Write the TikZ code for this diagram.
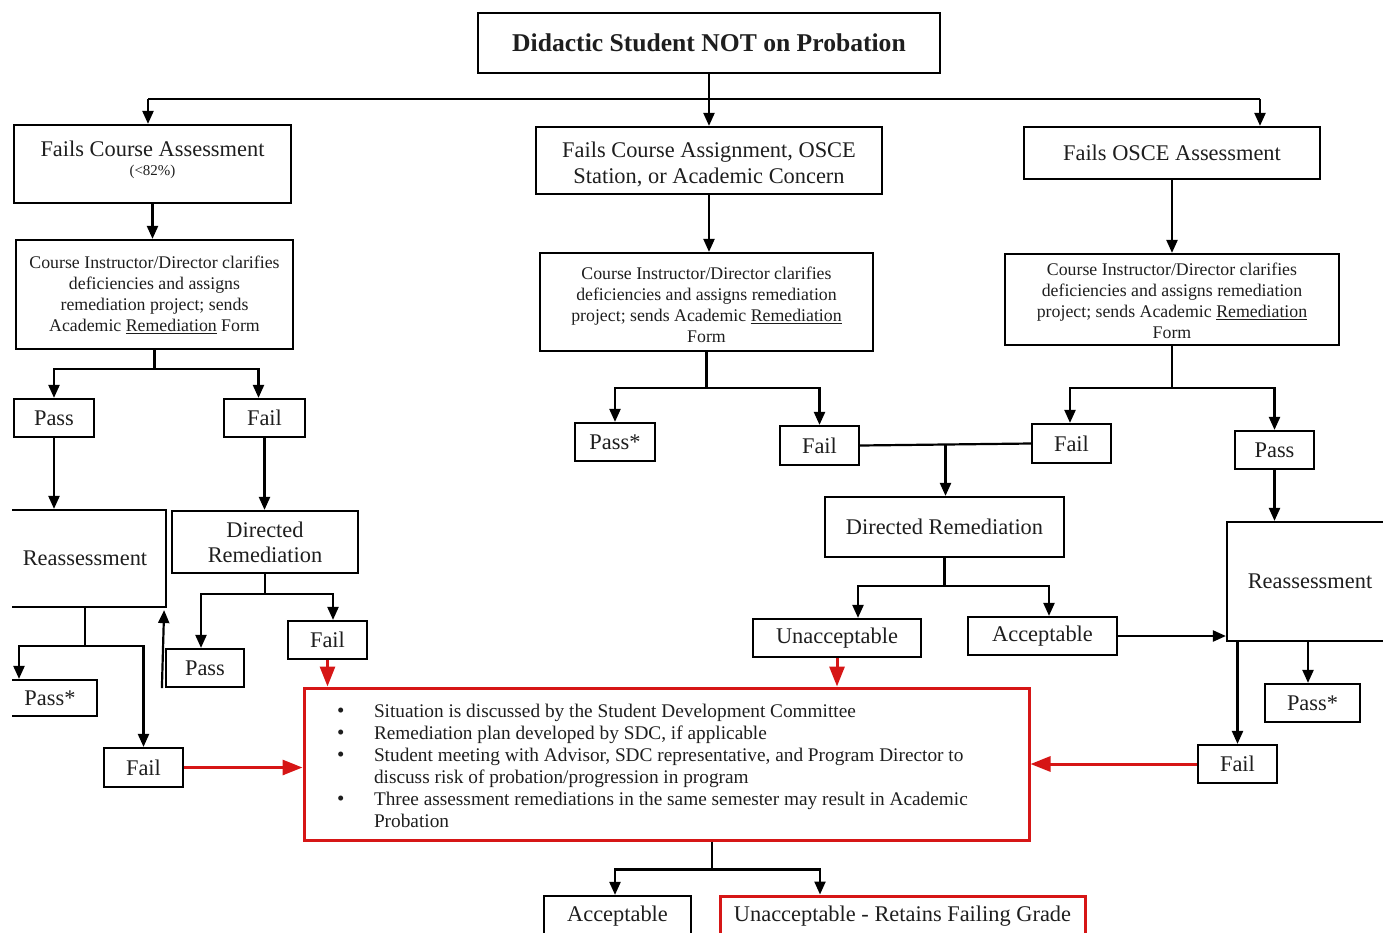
\documentclass[tikz,border=0pt]{standalone}
\usepackage{fontspec}
\setmainfont{Liberation Serif}
\usetikzlibrary{arrows.meta,calc}
\definecolor{redline}{RGB}{214,22,22}
\definecolor{ink}{RGB}{30,30,30}
\newcommand\mainfs{\fontsize{22.4}{26}\selectfont}
\newcommand\notefs{\fontsize{17.8}{21}\selectfont}
\newcommand\bigdot{\hspace*{-2pt}{\fontsize{21}{22}\selectfont\textbullet}}

\begin{document}
\begin{tikzpicture}[x=1pt,y=-1pt,
  box/.style={draw=black, line width=2.2pt, inner sep=0pt, align=center, text=ink, font=\mainfs},
  notebox/.style={box, font=\notefs},
  redbox/.style={draw=redline, line width=3pt, inner sep=0pt, text=ink},
  link/.style={draw=black, line width=2.2pt},
  arr/.style={link, -{Triangle[length=13pt,width=11pt]}},
  redarr/.style={draw=redline, line width=3pt, -{Triangle[length=20pt,width=15pt]}},
]
\useasboundingbox (0,0) rectangle (1383,932);

% ---------- top level ----------
\node[box, minimum width=462, minimum height=60, font=\bfseries\fontsize{25.6}{30}\selectfont]
  (title) at (709,43) {Didactic Student NOT on Probation};

\node[box, minimum width=277, minimum height=78] (A1) at (152.5,164)
  {Fails Course Assessment\\[-7pt]{\fontsize{15}{17}\selectfont (<82\%)\rule[-12pt]{0pt}{12pt}}};
\node[box, minimum width=346, minimum height=67] (B1) at (709,160.5)
  {\rule{0pt}{23pt}Fails Course Assignment, OSCE\\Station, or Academic Concern};
\node[box, minimum width=296, minimum height=52] (C1) at (1172,153)
  {Fails OSCE Assessment};

% ---------- instructor boxes ----------
\node[notebox, minimum width=277, minimum height=109] (A2) at (154.5,294.5)
  {Course Instructor/Director clarifies\\deficiencies and assigns\\remediation project; sends\\Academic \underline{Remediation} Form};
\node[notebox, minimum width=333, minimum height=98] (B2) at (706.5,302)
  {\rule{0pt}{18.5pt}Course Instructor/Director clarifies\\deficiencies and assigns remediation\\project; sends Academic \underline{Remediation}\\Form};
\node[notebox, minimum width=334, minimum height=91] (C2) at (1172,299.5)
  {\rule{0pt}{14.5pt}Course Instructor/Director clarifies\\deficiencies and assigns remediation\\project; sends Academic \underline{Remediation}\\Form};

% ---------- left branch ----------
\node[box, minimum width=80, minimum height=38] (passA) at (54,418) {Pass};
\node[box, minimum width=81, minimum height=38] (failA) at (264.5,418) {Fail};
\node[box, minimum width=186, minimum height=62, font=\fontsize{22.4}{25}\selectfont]
  (drA) at (265,542) {Directed\\Remediation};
\node[box, minimum width=78, minimum height=38] (passA2) at (205,668) {Pass};
\node[box, minimum width=79, minimum height=38] (failA2) at (327.5,640) {Fail};
\node[box, minimum width=79, minimum height=39] (failA3) at (143.5,767.5) {Fail};
\begin{scope}
  \clip (12,0) rectangle (400,932);
  \node[box, minimum width=162, minimum height=97] (reassA) at (85,558.5) {Reassessment};
  \node[box, minimum width=94, minimum height=36] (passStarA) at (50,698) {Pass*};
\end{scope}

% ---------- middle branch ----------
\node[box, minimum width=80, minimum height=38] (passStarB) at (615,442) {Pass*};
\node[box, minimum width=79, minimum height=39] (failB) at (819.5,445.5) {Fail};
\node[box, minimum width=239, minimum height=60] (drC) at (944.5,527) {Directed Remediation};
\node[box, minimum width=168, minimum height=38] (unacc) at (837,638) {Unacceptable};
\node[box, minimum width=149, minimum height=38] (acc) at (1042.5,636) {Acceptable};

% ---------- right branch ----------
\node[box, minimum width=79, minimum height=39] (failC) at (1071.5,443.5) {Fail};
\node[box, minimum width=79, minimum height=38] (passC) at (1274.5,450) {Pass};
\node[box, minimum width=166, minimum height=119] (reassC) at (1310,581.5) {Reassessment};
\node[box, minimum width=95, minimum height=38] (passStarC) at (1312.5,703) {Pass*};
\node[box, minimum width=79, minimum height=38] (failC2) at (1237.5,764) {Fail};

% ---------- committee review ----------
\node[redbox, minimum width=725, minimum height=152, font=\fontsize{19.3}{22}\selectfont]
  (sdc) at (666.5,764) {%
  \begin{tabular}{@{\hspace{35pt}}p{35pt}@{}p{655pt}@{}}
  \rule{0pt}{23.4pt}\bigdot & Situation is discussed by the Student Development Committee\\
  \bigdot & Remediation plan developed by SDC, if applicable\\
  \bigdot & Student meeting with Advisor, SDC representative, and Program Director to\\
          & discuss risk of probation/progression in program\\
  \bigdot & Three assessment remediations in the same semester may result in Academic\\
          & Probation
  \end{tabular}};
\node[box, minimum width=147, minimum height=40] (accBot) at (617.5,916) {Acceptable};
\node[box, draw=redline, line width=3pt, minimum width=365, minimum height=40]
  (unaccBot) at (902.5,916) {Unacceptable - Retains Failing Grade};

% ---------- connectors: top ----------
\coordinate (busL) at (148,99);
\coordinate (busR) at (1260,99);
\draw[link] (busL) -- (busR);
\draw[arr] (title.south) -- (B1.north);
\draw[arr] (busL) -- (busL |- A1.north);
\draw[arr] (busR) -- (busR |- C1.north);
\draw[arr] (A1.south) -- (A1.south |- A2.north);
\draw[arr] (B1.south) -- (B1.south |- B2.north);
\draw[arr] (C1.south) -- (C1.south |- C2.north);

% ---------- connectors: left ----------
\coordinate (jA) at ($(A2.south)+(0,19)$);
\draw[link] (A2.south) -- (jA);
\draw[arr] (jA) -| (passA.north);
\draw[arr] (jA) -| ([xshift=-6pt]failA.north);
\draw[arr] (passA.south) -- (passA.south |- reassA.north);
\draw[arr] (failA.south) -- (failA.south |- drA.north);
\coordinate (jDA) at ($(drA.south)+(0,20)$);
\draw[link] (drA.south) -- (jDA);
\draw[arr] (jDA) -| ([xshift=-4pt]passA2.north);
\draw[arr] (jDA) -| ([xshift=5.5pt]failA2.north);
\draw[arr] ([xshift=-3pt]passA2.south west) -- ([xshift=-3pt,yshift=-2pt]reassA.south east);
\coordinate (jRA) at ($(reassA.south)+(0,38)$);
\draw[link] (reassA.south) -- (jRA);
\draw[arr] (jRA) -| ([xshift=-31pt]passStarA.north);
\draw[arr] (jRA) -| (failA3.north);

% ---------- connectors: middle ----------
\coordinate (jB) at ($(B2.south)+(0,36)$);
\draw[link] (B2.south) -- (jB);
\draw[arr] (jB) -| (passStarB.north);
\draw[arr] (jB) -| (failB.north);
\draw[link] (failB.east) -- (failC.west);
\coordinate (jF) at ($(failB.east)!0.5!(failC.west)$);
\draw[arr] (jF) -- (jF |- drC.north);
\coordinate (jDC) at ($(drC.south)+(0,28)$);
\draw[link] (drC.south) -- (jDC);
\draw[arr] (jDC) -| ([xshift=21pt]unacc.north);
\draw[arr] (jDC) -| ([xshift=6.5pt]acc.north);
\draw[arr] (acc.east) -- (reassC.west |- acc.east);

% ---------- connectors: right ----------
\coordinate (jC) at ($(C2.south)+(0,42)$);
\draw[link] (C2.south) -- (jC);
\draw[arr] (jC) -| ([xshift=-1.5pt]failC.north);
\draw[arr] (jC) -| (passC.north);
\draw[arr] (passC.south) -- (passC.south |- reassC.north);
\draw[arr] (failC2.north |- reassC.south) -- (failC2.north);
\draw[arr] ([xshift=-4.5pt]passStarC.north |- reassC.south) -- ([xshift=-4.5pt]passStarC.north);

% ---------- connectors into the committee review ----------
\draw[redarr] (failA3.east) -- (sdc.west |- failA3.east);
\draw[redarr] (failA2.south) -- (failA2.south |- sdc.north);
\draw[redarr] (unacc.south) -- (unacc.south |- sdc.north);
\draw[redarr] (failC2.west) -- (sdc.east |- failC2.west);

% ---------- outcome ----------
\coordinate (jBot) at ($(sdc.south)+(45.5,28)$);
\draw[link] (sdc.south -| jBot) -- (jBot);
\draw[arr] (jBot) -| ([xshift=-2.5pt]accBot.north);
\draw[arr] (jBot) -| ([xshift=-82.5pt]unaccBot.north);
\end{tikzpicture}
\end{document}
